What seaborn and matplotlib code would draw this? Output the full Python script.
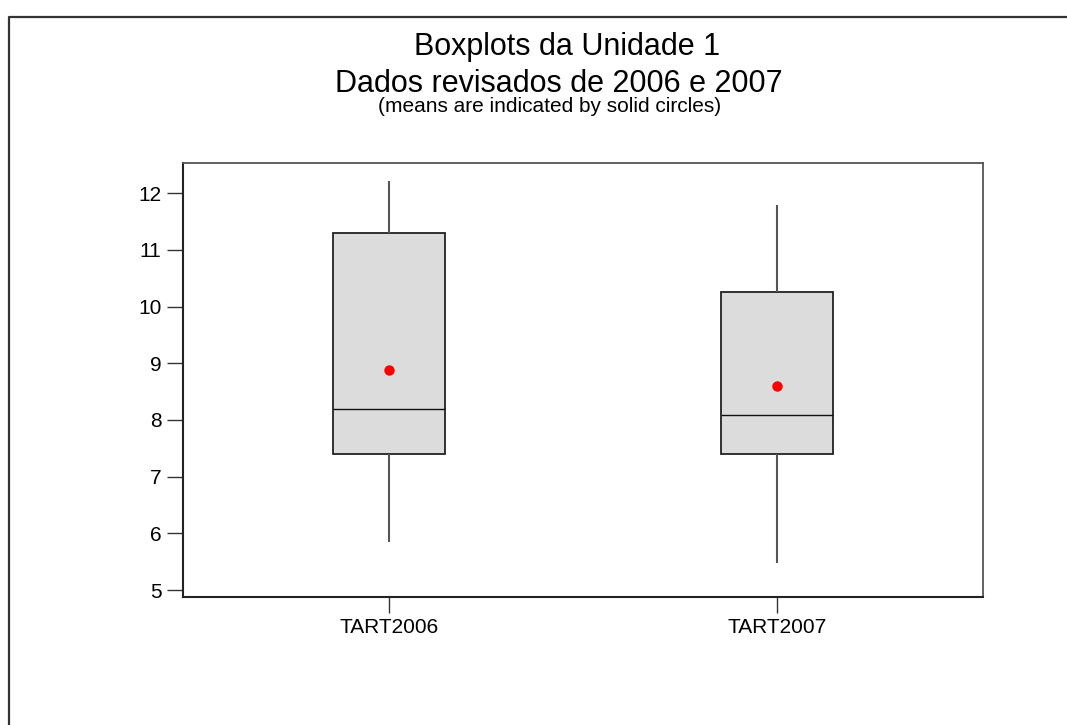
import numpy as np
import pandas as pd
import seaborn as sns
import matplotlib.pyplot as plt
from matplotlib.lines import Line2D

# five-number summaries (min, Q1, median, Q3, max)
labels = ["TART2006", "TART2007"]
tart2006 = [5.85, 7.40, 8.20, 11.30, 12.22]
tart2007 = [5.47, 7.40, 8.09, 10.25, 11.79]
means = [8.88, 8.60]
yticks = [5, 6, 7, 8, 9, 10, 11, 12]

sns.set_style("white")
plt.rcParams["font.family"] = ["Liberation Sans", "DejaVu Sans"]
plt.rcParams["text.color"] = "black"
plt.rcParams["xtick.labelcolor"] = "black"
plt.rcParams["ytick.labelcolor"] = "black"

df = pd.DataFrame({
    "var": np.repeat(labels, 5),
    "value": tart2006 + tart2007,
})

fig = plt.figure(figsize=(10.67, 7.25), dpi=100)
ax = fig.add_axes([0.1715, 0.1766, 0.7498, 0.5986])

sns.boxplot(data=df, x="var", y="value", ax=ax, width=0.29, whis=(0, 100),
            color="#dcdcdc", saturation=1, showcaps=False, fliersize=0,
            boxprops=dict(edgecolor="#222222", linewidth=1.3),
            whiskerprops=dict(color="#555555", linewidth=1.5),
            medianprops=dict(color="#111111", linewidth=1.0))
sns.stripplot(x=labels, y=means, ax=ax, jitter=False, color="red", size=7.5,
              linewidth=0, zorder=5)

ax.set_xlim(-0.531, 1.531)
ax.set_ylim(4.88, 12.53)
ax.set_yticks(yticks)
ax.set_xlabel("")
ax.set_ylabel("")
ax.tick_params(axis="both", direction="out", length=11.5, width=1, color="#333333",
               labelsize=15, labelcolor="black", pad=4, left=True, bottom=True)
for side in ["left", "bottom"]:
    ax.spines[side].set_color("#222222")
    ax.spines[side].set_linewidth(1.5)
for side in ["top", "right"]:
    ax.spines[side].set_color("#555555")
    ax.spines[side].set_linewidth(1.3)

fig.text(0.531, 0.924, "Boxplots da Unidade 1", ha="center", va="baseline", fontsize=22)
fig.text(0.524, 0.873, "Dados revisados de 2006 e 2007", ha="center", va="baseline", fontsize=22)
fig.text(0.515, 0.8455, "(means are indicated by solid circles)", ha="center", va="baseline",
         fontsize=15)

# frame around the page (top and left only)
ytop = 1 - 16.5 / 725
xleft = 9 / 1067
fig.add_artist(Line2D([xleft, xleft, 1.0], [0.0, ytop, ytop], transform=fig.transFigure,
                      color="#333333", linewidth=1.6))

plt.savefig("out.png", dpi=100)
plt.close()
